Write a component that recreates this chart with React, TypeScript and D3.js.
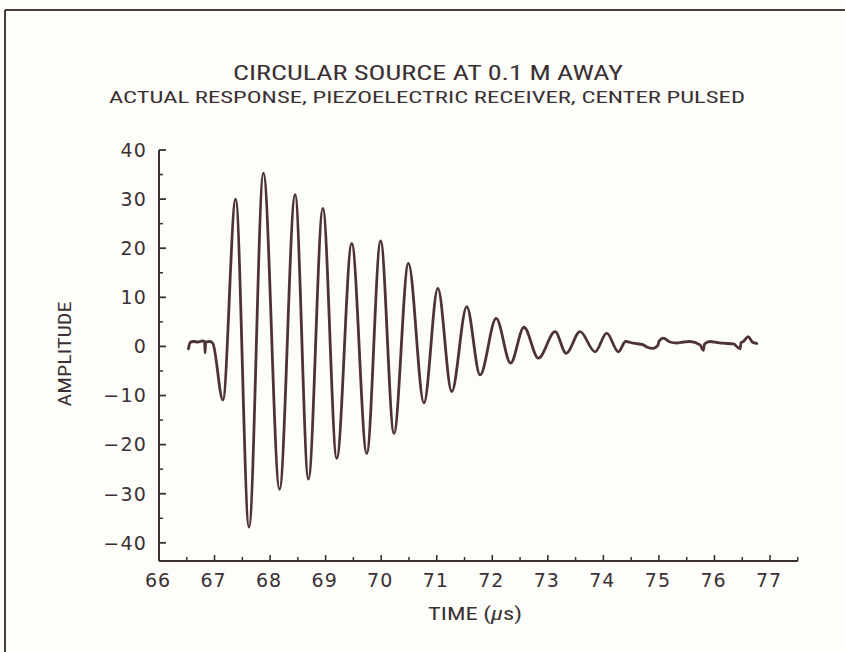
import React, { useEffect } from "react";
import * as d3 from "d3";

const W = 845;
const H = 652;

const titleText = "CIRCULAR SOURCE AT 0.1 M AWAY";
const subtitleText = "ACTUAL RESPONSE, PIEZOELECTRIC RECEIVER, CENTER PULSED";
const yLabel = "AMPLITUDE";

const yTicks = [40, 30, 20, 10, 0, -10, -20, -30, -40];
const yMinorTicks = [35, 25, 15, 5, -5, -15, -25, -35];
const xTicks = [66, 67, 68, 69, 70, 71, 72, 73, 74, 75, 76, 77];
const xMinorTicks = [66.5, 67.5, 68.5, 69.5, 70.5, 71.5, 72.5, 73.5, 74.5, 75.5, 76.5, 77.5];

// time (µs)
const waveT = [
  66.53, 66.56, 66.62, 66.7, 66.78, 66.82, 66.83, 66.84, 66.92, 66.97,
  67.15, 67.38, 67.62, 67.88, 68.17, 68.45, 68.69, 68.95, 69.2, 69.47,
  69.74, 69.99, 70.23, 70.49, 70.77, 71.02, 71.27, 71.54, 71.78, 72.07,
  72.33, 72.57, 72.83, 73.13, 73.33, 73.58, 73.85, 74.06, 74.27, 74.4,
  74.54, 74.72, 74.78, 74.9, 74.98, 75.0, 75.08, 75.2, 75.32, 75.45,
  75.56, 75.74, 75.8, 75.82, 75.92, 76.05, 76.16, 76.34, 76.46, 76.48,
  76.52, 76.61, 76.68, 76.76,
];
// amplitude
const waveA = [
  -0.5, 0.8, 1.0, 0.9, 1.1, 1.0, -1.3, 0.9, 1.0, 0.6,
  -10.9, 30.0, -36.8, 35.3, -29.1, 30.9, -27.0, 28.1, -22.8, 21.0,
  -21.8, 21.5, -17.7, 16.9, -11.5, 11.8, -9.2, 8.1, -5.8, 5.7,
  -3.4, 3.9, -2.4, 3.0, -1.4, 3.0, -1.1, 2.7, -1.1, 1.0,
  0.65, 0.3, -0.1, -0.4, 0.2, 1.0, 1.7, 0.9, 0.7, 0.9,
  1.0, 0.3, -0.8, 0.5, 1.0, 0.8, 0.65, 0.5, -0.5, 0.8,
  1.0, 2.0, 0.9, 0.6,
];

const INK = "#3b3134";
const LINE = "#4d3339";
const BG = "#fdfdf9";

export default function App() {
  useEffect(() => {
    document.body.style.margin = "0";
    document.body.style.background = BG;
    document.body.style.overflow = "hidden";
  }, []);

  const x = d3.scaleLinear().domain([66, 77.5]).range([159, 797.8]);
  const y = d3.scaleLinear().domain([-43.7, 40]).range([561, 150]);

  const pts: [number, number][] = waveT.map((t, i) => [t, waveA[i]]);
  const line = d3
    .line<[number, number]>()
    .x((d) => x(d[0]))
    .y((d) => y(d[1]))
    .curve(d3.curveMonotoneX);

  const x0 = x(66);
  const y0 = y(-43.7);
  const tickFont = "'DejaVu Sans', Verdana, sans-serif";
  const condFont = "'Liberation Sans Narrow', 'Roboto Condensed', Roboto, 'Liberation Sans', sans-serif";

  return (
    <svg width={W} height={H} style={{ display: "block" }}>
      <rect x={0} y={0} width={W} height={H} fill={BG} />
      {/* frame */}
      <line x1={5} y1={10} x2={W + 5} y2={10} stroke="#4a3d41" strokeWidth={2} />
      <line x1={5} y1={10} x2={5} y2={H + 5} stroke="#4a3d41" strokeWidth={2} />

      {/* titles */}
      <text
        x={428}
        y={80}
        textAnchor="middle"
        fontFamily={condFont}
        fontSize={19.5}
        fill={INK}
        textLength={390}
        lengthAdjust="spacingAndGlyphs"
      >
        {titleText}
      </text>
      <text
        x={427}
        y={103}
        textAnchor="middle"
        fontFamily={condFont}
        fontSize={16.5}
        fill={INK}
        textLength={636}
        lengthAdjust="spacingAndGlyphs"
      >
        {subtitleText}
      </text>

      {/* y axis */}
      <line x1={x0} y1={y(40)} x2={x0} y2={y0} stroke={INK} strokeWidth={2} />
      {yTicks.map((v) => (
        <g key={"yt" + v}>
          <line x1={x0} x2={x0 + 7} y1={y(v)} y2={y(v)} stroke={INK} strokeWidth={1.8} />
          <text
            x={147}
            y={y(v)}
            dy="0.36em"
            textAnchor="end"
            fontFamily={tickFont}
            fontSize={19}
            letterSpacing={1.2}
            fill={INK}
          >
            {v < 0 ? "\u2212" + Math.abs(v) : String(v)}
          </text>
        </g>
      ))}
      {yMinorTicks.map((v) => (
        <line key={"ym" + v} x1={x0} x2={x0 + 4} y1={y(v)} y2={y(v)} stroke={INK} strokeWidth={1.5} />
      ))}

      {/* x axis */}
      <line x1={x0} y1={y0} x2={x(77.5)} y2={y0} stroke={INK} strokeWidth={2} />
      {xTicks.map((v) => (
        <g key={"xt" + v}>
          <line x1={x(v)} x2={x(v)} y1={y0} y2={y0 - 6} stroke={INK} strokeWidth={1.6} />
          <text
            x={x(v) - 1}
            y={587}
            textAnchor="middle"
            fontFamily={tickFont}
            fontSize={19}
            letterSpacing={1}
            fill={INK}
          >
            {String(v)}
          </text>
        </g>
      ))}
      {xMinorTicks.map((v) => (
        <line key={"xm" + v} x1={x(v)} x2={x(v)} y1={y0} y2={y0 - 4} stroke={INK} strokeWidth={1.5} />
      ))}

      {/* axis titles */}
      <text
        x={475}
        y={620}
        textAnchor="middle"
        fontFamily={condFont}
        fontSize={18.5}
        fill={INK}
        textLength={94}
        lengthAdjust="spacingAndGlyphs"
      >
        TIME (<tspan fontStyle="italic">µ</tspan>s)
      </text>
      <text
        transform="translate(71,354) rotate(-90)"
        textAnchor="middle"
        fontFamily={condFont}
        fontSize={18.5}
        fill={INK}
        textLength={105}
        lengthAdjust="spacingAndGlyphs"
      >
        {yLabel}
      </text>

      {/* waveform */}
      <path
        d={line(pts) || ""}
        fill="none"
        stroke={LINE}
        strokeWidth={2.8}
        strokeLinejoin="round"
        strokeLinecap="round"
      />
    </svg>
  );
}
